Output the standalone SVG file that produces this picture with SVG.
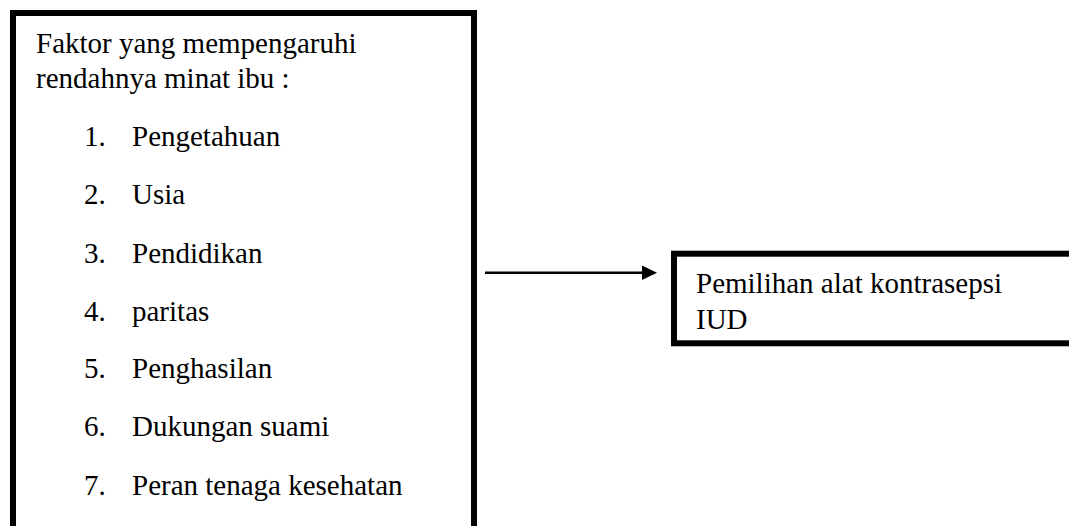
<svg xmlns="http://www.w3.org/2000/svg" width="1069" height="526" viewBox="0 0 1069 526">
  <style>
    .box { fill: #ffffff; stroke: #000000; stroke-width: 6; }
    .t { font-family: "Liberation Serif", "Times New Roman", serif; font-size: 29px; fill: #000000; }
    .conn { stroke: #000000; stroke-width: 2.5; fill: none; }
  </style>
  <defs>
    <marker id="arrow" markerWidth="15" markerHeight="15" refX="0" refY="7.25" orient="auto" markerUnits="userSpaceOnUse">
      <polygon points="0,0 15,7.25 0,14.5" fill="#000000"/>
    </marker>
  </defs>
  <rect x="0" y="0" width="1069" height="526" fill="#ffffff"/>
  <g id="factors">
    <rect class="box" x="13" y="13" width="461" height="540"/>
    <text class="t" x="36" y="53">Faktor yang mempengaruhi</text>
    <text class="t" x="36" y="88">rendahnya minat ibu :</text>
    <text class="t" x="84" y="146">1.</text>
    <text class="t" x="132" y="146">Pengetahuan</text>
    <text class="t" x="84" y="204">2.</text>
    <text class="t" x="132" y="204">Usia</text>
    <text class="t" x="84" y="262.5">3.</text>
    <text class="t" x="132" y="262.5">Pendidikan</text>
    <text class="t" x="84" y="320.5">4.</text>
    <text class="t" x="132" y="320.5">paritas</text>
    <text class="t" x="84" y="378">5.</text>
    <text class="t" x="132" y="378">Penghasilan</text>
    <text class="t" x="84" y="436">6.</text>
    <text class="t" x="132" y="436">Dukungan suami</text>
    <text class="t" x="84" y="494.5">7.</text>
    <text class="t" x="132" y="494.5">Peran tenaga kesehatan</text>
  </g>
  <g id="connectors">
    <line class="conn" x1="485" y1="272.7" x2="642" y2="272.7" marker-end="url(#arrow)"/>
  </g>
  <g id="result">
    <rect class="box" x="674" y="253.7" width="420" height="89.6"/>
    <text class="t" x="696" y="293">Pemilihan alat kontrasepsi</text>
    <text class="t" x="696" y="329">IUD</text>
  </g>
</svg>
